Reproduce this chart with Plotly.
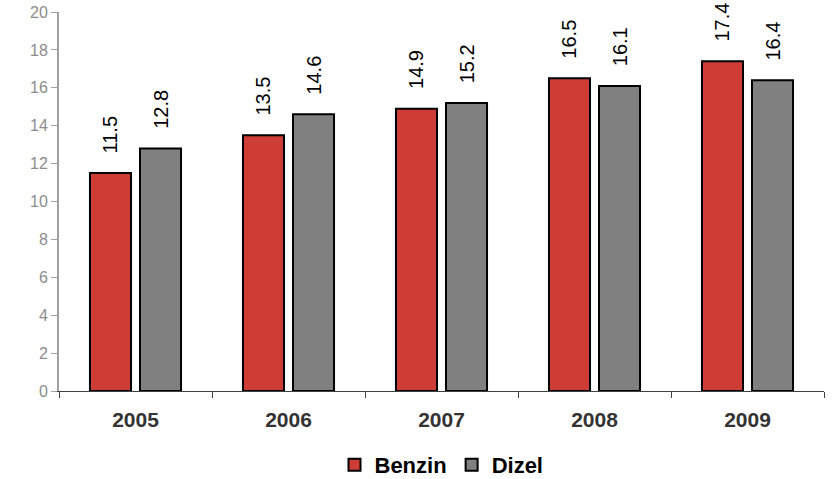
import plotly.graph_objects as go

years = ["2005", "2006", "2007", "2008", "2009"]
benzin = [11.5, 13.5, 14.9, 16.5, 17.4]
dizel = [12.8, 14.6, 15.2, 16.1, 16.4]
y_ticks = [0, 2, 4, 6, 8, 10, 12, 14, 16, 18, 20]

pad = "\u00a0\u00a0\u00a0"
FONT = "Liberation Sans, Arial"

fig = go.Figure()
fig.add_trace(go.Bar(
    name="<b>Benzin</b>", x=years, y=benzin,
    text=[pad + f"{v:.1f}" for v in benzin],
    textposition="outside", textangle=-90, constraintext="none", cliponaxis=False,
    textfont=dict(family=FONT, size=20, color="black"),
    marker=dict(color="#CD3D36", line=dict(color="black", width=2)),
))
fig.add_trace(go.Bar(
    name="<b>Dizel</b>", x=years, y=dizel,
    text=[pad + f"{v:.1f}" for v in dizel],
    textposition="outside", textangle=-90, constraintext="none", cliponaxis=False,
    textfont=dict(family=FONT, size=20, color="black"),
    marker=dict(color="#808080", line=dict(color="black", width=2)),
))

fig.update_layout(
    width=836, height=479,
    margin=dict(l=59, r=12, t=12, b=88, autoexpand=False),
    paper_bgcolor="white", plot_bgcolor="white",
    barmode="group", bargap=0.346, bargroupgap=0.18,
    font=dict(family=FONT),
    showlegend=True,
    legend=dict(orientation="h", x=0.5, xanchor="center", y=-0.195, yanchor="middle",
                font=dict(size=22, color="black", family=FONT),
                itemwidth=30, traceorder="normal"),
    xaxis=dict(
        type="category", tickson="boundaries", ticks="outside", ticklen=6,
        tickcolor="#404040", showline=True, linecolor="#404040", linewidth=1,
        tickfont=dict(size=21, color="#333333", family=FONT),
        tickprefix="<b>", ticksuffix="</b>", showgrid=False,
        automargin=False, ticklabelstandoff=10, ticklabeloverflow="allow",
    ),
    yaxis=dict(
        range=[0, 20], tickvals=y_ticks, ticks="outside", ticklen=6,
        tickcolor="#A0A0A0", showline=True, linecolor="#A0A0A0", linewidth=2,
        tickfont=dict(size=16, color="#8C8C8C", family=FONT),
        showgrid=False, zeroline=False, automargin=False, ticklabeloverflow="allow",
    ),
)

fig.write_html(
    "out.html",
    config={"displayModeBar": False},
    post_script="document.body.style.margin='0';document.body.style.overflow='hidden';",
)
